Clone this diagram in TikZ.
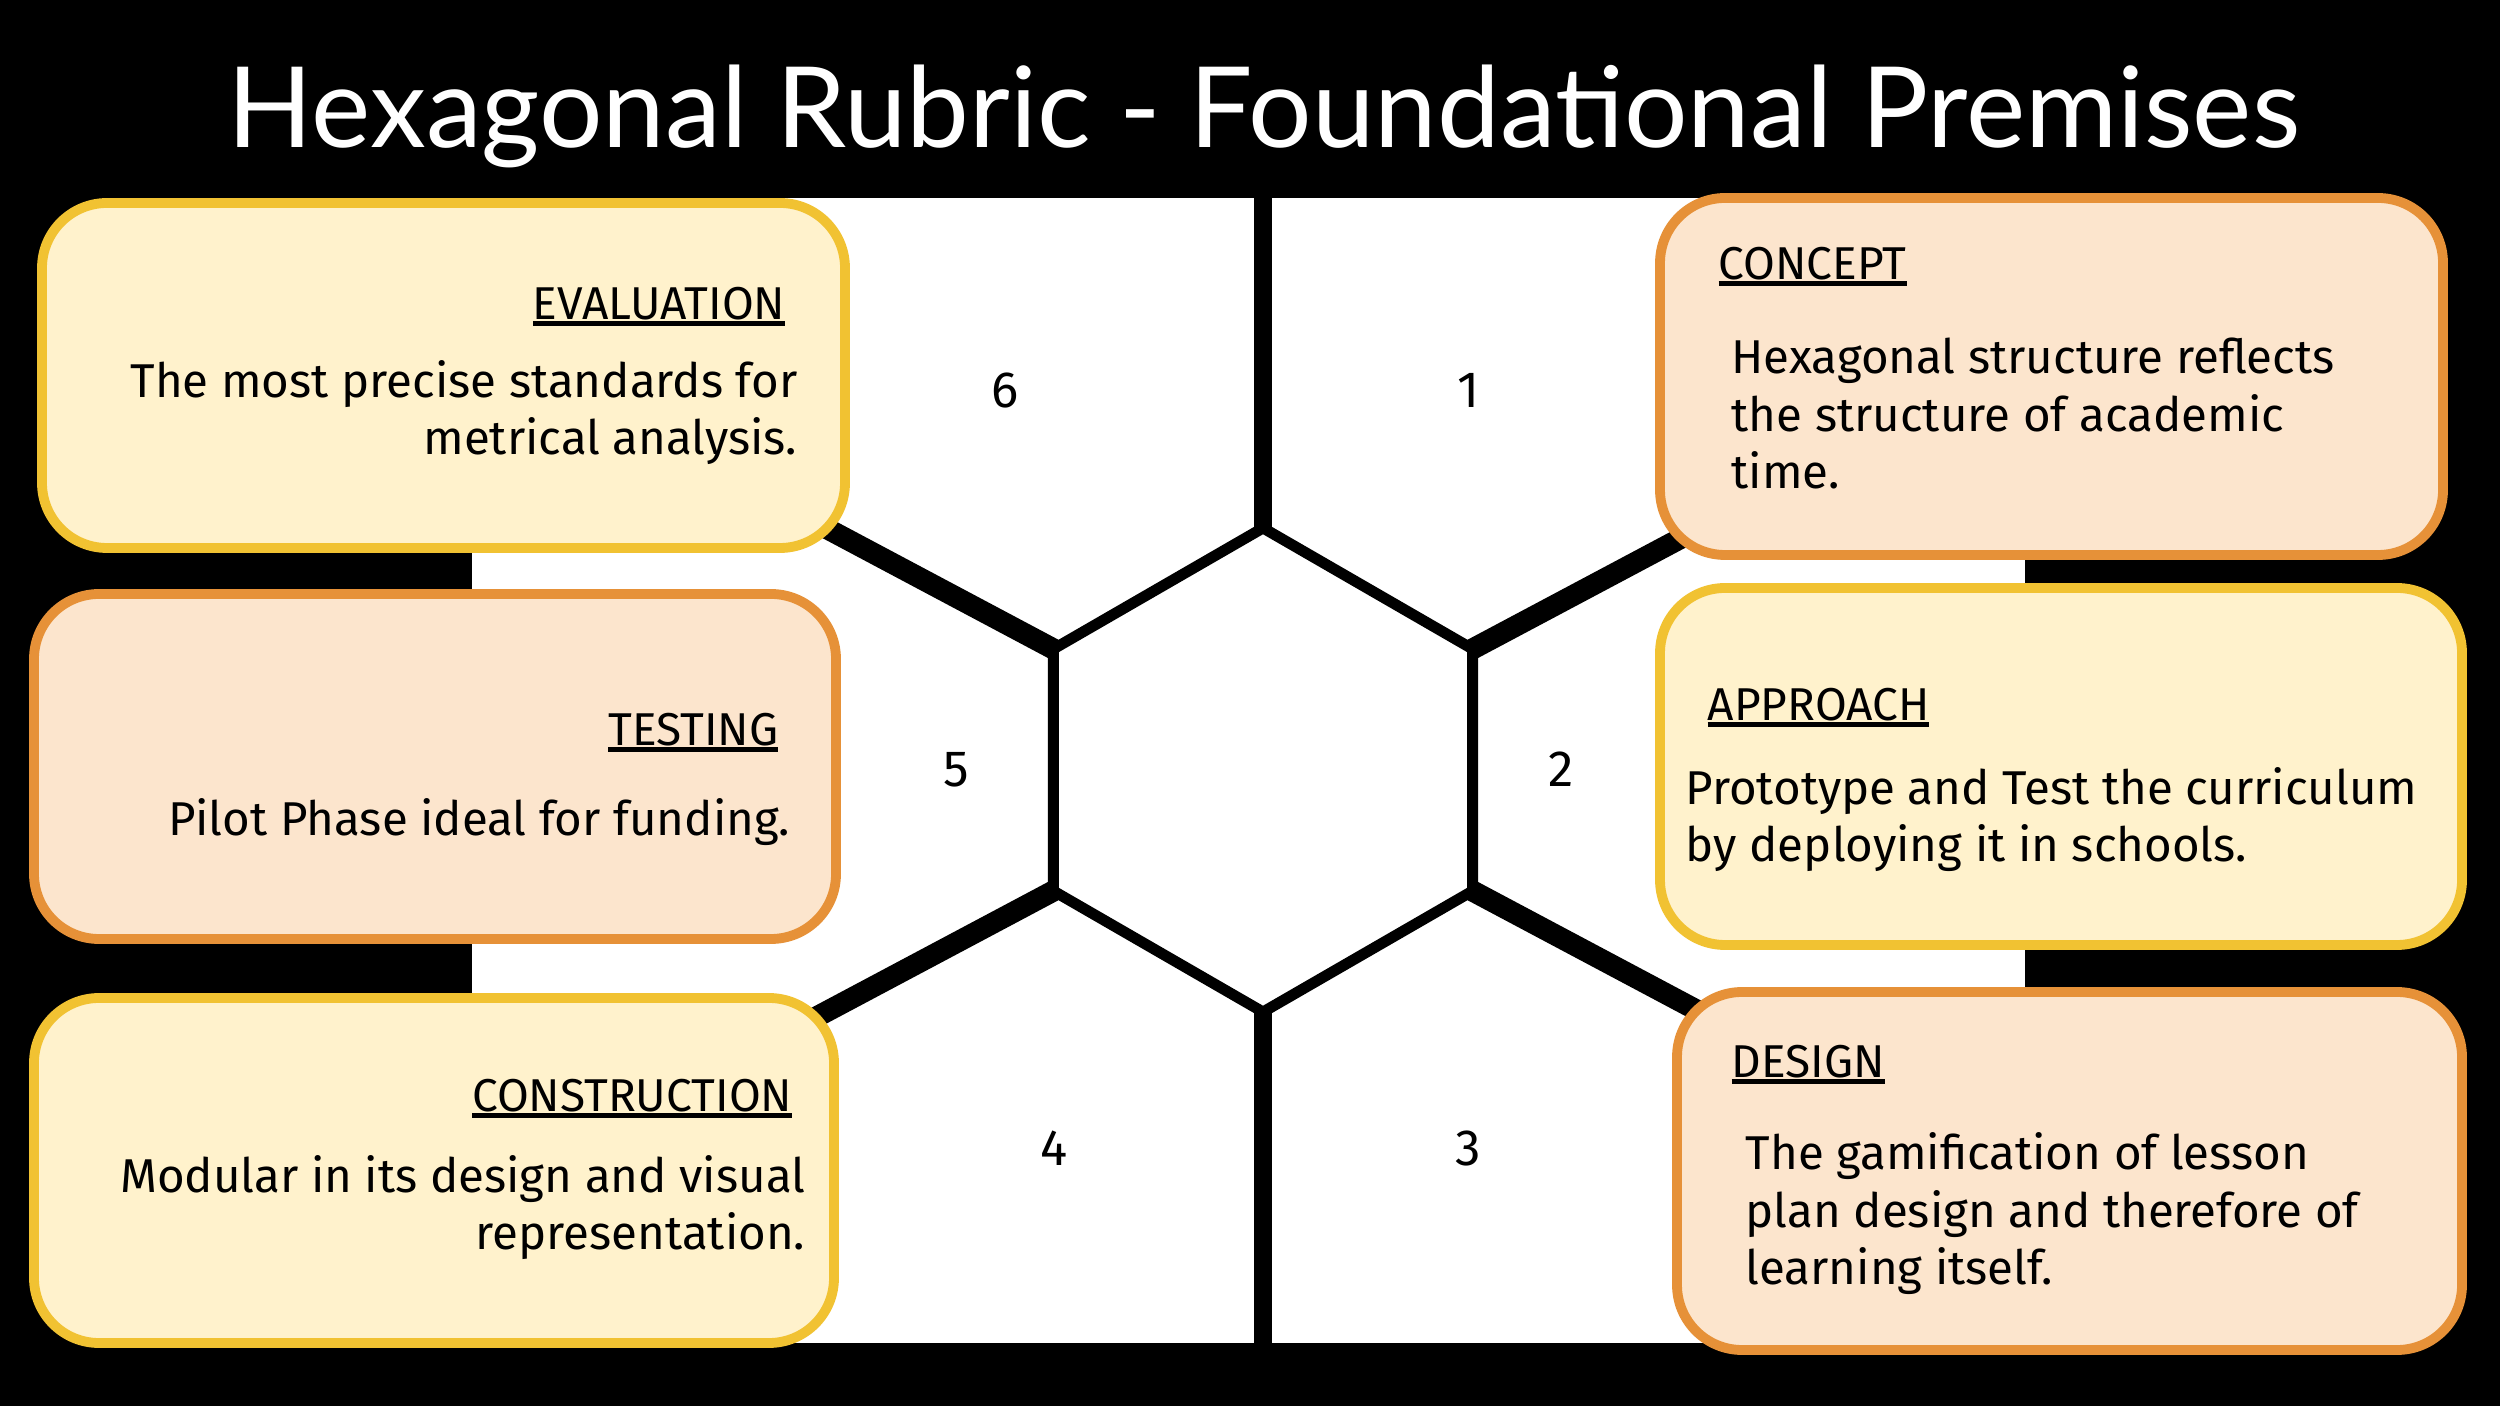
\documentclass[tikz,border=0pt]{standalone}
\usepackage{fontspec}
\setmainfont{Fira Sans}
\newfontfamily\titlefont{Lato}
\usepackage{tikz}
\usetikzlibrary{calc}
\usepackage{xcolor}
\definecolor{ylwfill}{HTML}{FFF2CC}
\definecolor{ylwline}{HTML}{F1C232}
\definecolor{orgfill}{HTML}{FCE5CD}
\definecolor{orgline}{HTML}{E69138}
\newcommand\ulhead[1]{\setbox0\hbox{#1}\rlap{\rule[-1.8pt]{\wd0}{1.4pt}}\box0}

\begin{document}
\begin{tikzpicture}[line cap=butt,
  cardy/.style={draw=ylwline,fill=ylwfill,line width=2.8pt,rounded corners=0.65cm,inner sep=0pt},
  cardo/.style={draw=orgline,fill=orgfill,line width=2.8pt,rounded corners=0.65cm,inner sep=0pt},
  head/.style={inner sep=0pt,font=\fontsize{13.1}{16}\selectfont},
  body/.style={inner sep=0pt,font=\fontsize{13.5}{16.4}\selectfont},
  num/.style={inner sep=0pt,font=\fontsize{14.5}{17}\selectfont,anchor=base}]
  \def\R{2.42}
  \useasboundingbox (0,0) rectangle (25,14.06);
  \fill[black] (0,0) rectangle (25,14.06);

  % --- title ---
  \node[text=white,anchor=base,inner sep=0pt,font=\titlefont\fontsize{31.9}{36}\selectfont] (title) at (12.64,12.58) {Hexagonal Rubric - Foundational Premises};

  % white field
  \fill[white] (4.72,0.63) rectangle (20.25,12.08);

  % --- hexagon ---
  \coordinate (hc) at (12.63,6.36);
  \foreach \a in {30,90,...,330}
    \coordinate (h\a) at ($(hc)+(\a:\R)$);
  \draw[line width=3.1pt,line join=miter] (h30) -- (h90) -- (h150) -- (h210) -- (h270) -- (h330) -- cycle;
  \coordinate (topend) at (12.63,12.08);
  \coordinate (botend) at (12.63,0.63);
  \draw[line width=5.2pt] (h90) -- (topend);
  \draw[line width=5.2pt] (h270) -- (botend);

  % spokes to the cards
  \draw[line width=6pt] (h150) -- ++(152:2.8);
  \draw[line width=6pt] (h30) -- ++(28:2.8);
  \draw[line width=6pt] (h210) -- ++(208:2.8);
  \draw[line width=6pt] (h330) -- ++(-28:2.8);

  % segment numbers
  \node[num] (n1) at (14.69,9.98) {1};
  \node[num] (n2) at (15.61,6.19) {2};
  \node[num] (n3) at (14.68,2.40) {3};
  \node[num] (n4) at (10.54,2.40) {4};
  \node[num] (n5) at (9.56,6.19) {5};
  \node[num] (n6) at (10.05,9.98) {6};

  % --- left cards ---
  \node[cardy,minimum width=8.03cm,minimum height=3.45cm] (evalcard) at (4.435,10.305) {};
  \node[head,anchor=base east] (evalhead) at (7.86,10.86) {\ulhead{EVALUATION}};
  \node[body,anchor=base east,align=right] (evaltext) at (7.98,9.51) {The most precise standards for\\metrical analysis.};

  \node[cardo,minimum width=8.02cm,minimum height=3.45cm] (testcard) at (4.35,6.395) {};
  \node[head,anchor=base east] (testhead) at (7.79,6.60) {\ulhead{TESTING}};
  \node[body,anchor=base east] (testtext) at (7.91,5.70) {Pilot Phase ideal for funding.};

  \node[cardy,minimum width=8.00cm,minimum height=3.45cm] (conscard) at (4.34,2.355) {};
  \node[head,anchor=base east] (conshead) at (7.93,2.94) {\ulhead{CONSTRUCTION}};
  \node[body,anchor=base east,align=right] (constext) at (8.06,1.56) {Modular in its design and visual\\representation.};

  % --- right cards ---
  \node[cardo,minimum width=7.83cm,minimum height=3.57cm] (conccard) at (20.515,10.295) {};
  \node[head,anchor=base west] (conchead) at (17.18,11.26) {\ulhead{CONCEPT}};
  \node[body,anchor=base west,align=left] (conctext) at (17.31,9.17) {Hexagonal structure reflects\\the structure of academic\\time.};

  \node[cardy,minimum width=8.02cm,minimum height=3.57cm] (apprcard) at (20.61,6.395) {};
  \node[head,anchor=base west] (apprhead) at (17.07,6.85) {\ulhead{APPROACH}};
  \node[body,anchor=base west,align=left] (apprtext) at (16.85,5.44) {Prototype and Test the curriculum\\by deploying it in schools.};

  \node[cardo,minimum width=7.85cm,minimum height=3.58cm] (desgcard) at (20.695,2.35) {};
  \node[head,anchor=base west] (desghead) at (17.31,3.28) {\ulhead{DESIGN}};
  \node[body,anchor=base west,align=left] (desgtext) at (17.45,1.21) {The gamification of lesson\\plan design and therefore of\\learning itself.};
\end{tikzpicture}
\end{document}
